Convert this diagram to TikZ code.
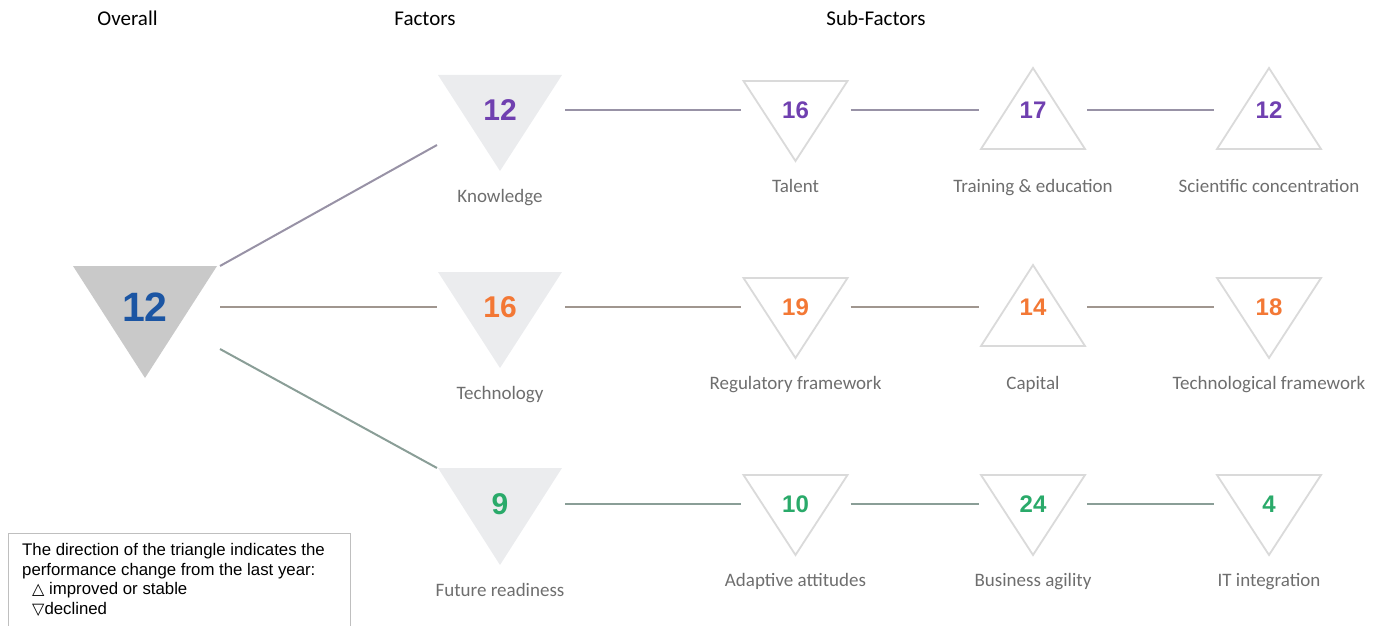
\documentclass[tikz,border=0pt]{standalone}
\usepackage{fontspec}
\setmainfont{Carlito}
\newfontfamily\numfont{Liberation Sans}
\newfontfamily\legfont{Liberation Sans}
\newfontfamily\symfont{DejaVu Sans}
\usetikzlibrary{calc,backgrounds}
\definecolor{kpurple}{HTML}{7040B0}
\definecolor{torange}{HTML}{F37835}
\definecolor{fgreen}{HTML}{2AAA6A}
\definecolor{oblue}{HTML}{1B55A3}
\definecolor{labgray}{HTML}{6E6E6E}
\definecolor{allgray}{HTML}{C9C9C9}
\definecolor{facgray}{HTML}{EBECEE}
\definecolor{subgray}{HTML}{DADADA}
\definecolor{boxgray}{HTML}{BFBFBF}
\definecolor{lnpurple}{HTML}{9892A6}
\definecolor{lnbrown}{HTML}{A0968F}
\definecolor{lngreen}{HTML}{8A9E97}
% triangles round a number node: name, half width, up, down, style
\newcommand{\downtri}[5]{\path[#5] ($(#1)+(-#2,-#3)$) -- ($(#1)+(#2,-#3)$) -- ($(#1)+(0,#4)$) -- cycle;}
\newcommand{\uptri}[5]{\path[#5] ($(#1)+(-#2,#4)$) -- ($(#1)+(#2,#4)$) -- ($(#1)+(0,-#3)$) -- cycle;}

\begin{document}
\begin{tikzpicture}[
  x=1pt,y=-1pt,
  head/.style={font=\fontsize{21}{24}\selectfont,anchor=base,inner sep=0pt},
  lbl/.style={font=\fontsize{19}{22}\selectfont,text=labgray,anchor=base,inner sep=0pt},
  bignum/.style={font=\numfont\bfseries\fontsize{41}{44}\selectfont,text=oblue},
  facnum/.style={font=\numfont\bfseries\fontsize{30}{32}\selectfont},
  subnum/.style={font=\numfont\bfseries\fontsize{24}{26}\selectfont},
  subtri/.style={draw=subgray,line width=1.8pt,fill=white,line join=miter},
  conn/.style={line width=2pt},
  legtxt/.style={font=\legfont\fontsize{16.8}{19.5}\selectfont,align=left,inner sep=0pt}
]
\useasboundingbox (0,0) rectangle (1379,626);

% headers
\node[head] (hall) at (127.5,26) {Overall};
\node[head] (hfac) at (425,26) {Factors};
\node[head] (hsub) at (876,26) {Sub-Factors};

% overall and factors
\node[bignum] (all) at (145,307) {12};
\node[facnum,text=kpurple] (kno) at (500,110) {12};
\node[facnum,text=torange] (tec) at (500,307) {16};
\node[facnum,text=fgreen] (fut) at (500,504) {9};

% sub-factors
\node[subnum,text=kpurple] (tal) at (795.5,110) {16};
\node[subnum,text=kpurple] (tra) at (1033,110) {17};
\node[subnum,text=kpurple] (sci) at (1269,110) {12};
\node[subnum,text=torange] (reg) at (795.5,307) {19};
\node[subnum,text=torange] (cap) at (1033,307) {14};
\node[subnum,text=torange] (tef) at (1269,307) {18};
\node[subnum,text=fgreen] (ada) at (795.5,504) {10};
\node[subnum,text=fgreen] (bus) at (1033,504) {24};
\node[subnum,text=fgreen] (itn) at (1269,504) {4};

\begin{scope}[on background layer]
  \downtri{all}{72}{41}{71}{fill=allgray}
  \downtri{kno}{62}{35}{61}{fill=facgray}
  \downtri{tec}{62}{35}{61}{fill=facgray}
  \downtri{fut}{62}{36}{61}{fill=facgray}
  \downtri{tal}{52}{29}{51}{subtri}
  \uptri{tra}{52}{42}{39}{subtri}
  \uptri{sci}{52}{42}{39}{subtri}
  \downtri{reg}{52}{29}{51}{subtri}
  \uptri{cap}{52}{42}{39}{subtri}
  \downtri{tef}{52}{29}{51}{subtri}
  \downtri{ada}{52}{29}{51}{subtri}
  \downtri{bus}{52}{29}{51}{subtri}
  \downtri{itn}{52}{29}{51}{subtri}
\end{scope}

% labels
\node[lbl] (lkno) at ($(kno)+(0,92)$) {Knowledge};
\node[lbl] (ltec) at ($(tec)+(0,92)$) {Technology};
\node[lbl] (lfut) at ($(fut)+(0,92)$) {Future readiness};
\node[lbl] (ltal) at ($(tal)+(0,82)$) {Talent};
\node[lbl] (ltra) at ($(tra)+(0,82)$) {Training \& education};
\node[lbl] (lsci) at ($(sci)+(0,82)$) {Scientific concentration};
\node[lbl] (lreg) at ($(reg)+(0,82)$) {Regulatory framework};
\node[lbl] (lcap) at ($(cap)+(0,82)$) {Capital};
\node[lbl] (ltef) at ($(tef)+(0,82)$) {Technological framework};
\node[lbl] (lada) at ($(ada)+(0,82)$) {Adaptive attitudes};
\node[lbl] (lbus) at ($(bus)+(0,82)$) {Business agility};
\node[lbl] (litn) at ($(itn)+(0,82)$) {IT integration};

% connectors
\draw[conn,lnpurple] ($(all)+(75,-41)$) -- ($(kno)+(-63,35)$);
\draw[conn,lnbrown] ($(all)+(75,0)$) -- ($(tec)+(-63,0)$);
\draw[conn,lngreen] ($(all)+(75,42)$) -- ($(fut)+(-63,-36)$);
\draw[conn,lnpurple] ($(kno)+(65,0)$) -- ($(tal)+(-55,0)$);
\draw[conn,lnpurple] ($(tal)+(55,0)$) -- ($(tra)+(-54,0)$);
\draw[conn,lnpurple] ($(tra)+(54,0)$) -- ($(sci)+(-55,0)$);
\draw[conn,lnbrown] ($(tec)+(65,0)$) -- ($(reg)+(-55,0)$);
\draw[conn,lnbrown] ($(reg)+(55,0)$) -- ($(cap)+(-54,0)$);
\draw[conn,lnbrown] ($(cap)+(54,0)$) -- ($(tef)+(-55,0)$);
\draw[conn,lngreen] ($(fut)+(65,0)$) -- ($(ada)+(-55,0)$);
\draw[conn,lngreen] ($(ada)+(55,0)$) -- ($(bus)+(-54,0)$);
\draw[conn,lngreen] ($(bus)+(54,0)$) -- ($(itn)+(-55,0)$);

% legend
\draw[boxgray,line width=1pt] (8,626) |- (350,533) -- (350,626);
\node[legtxt,anchor=north west] (leg) at (22,543.5) {The direction of the triangle indicates the\\
  performance change from the last year:\\
  \hspace*{10pt}{\symfont\fontsize{16}{19.5}\selectfont △} improved or stable\\
  \hspace*{10pt}{\symfont\fontsize{16}{19.5}\selectfont ▽}declined};
\end{tikzpicture}
\end{document}
